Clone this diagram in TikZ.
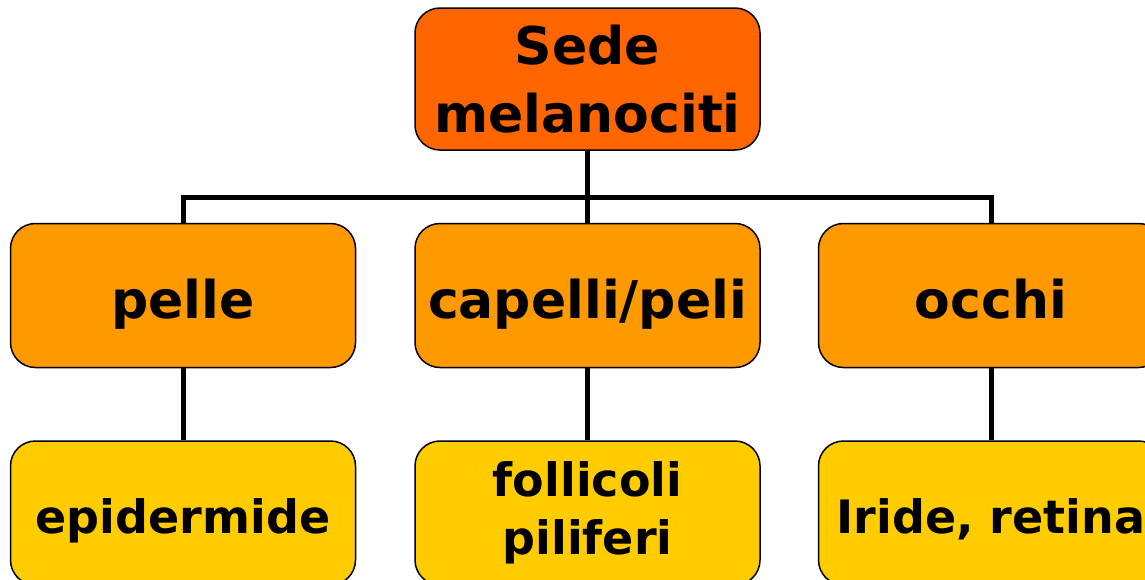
\documentclass[tikz,border=0pt]{standalone}
\usepackage{fontspec}
\setmainfont{DejaVu Sans}
\usepackage{tikz}
\usetikzlibrary{positioning}

\definecolor{rootorange}{HTML}{FF6600}
\definecolor{levelorange}{HTML}{FF9900}
\definecolor{leafyellow}{HTML}{FFCC00}

\begin{document}
\begin{tikzpicture}[
    x=1pt, y=1pt,
    box/.style={rectangle, rounded corners=25pt, draw=black, line width=1.5pt, minimum width=345pt, inner sep=0pt, align=center},
    root/.style={box, fill=rootorange, minimum height=142pt, font=\bfseries\fontsize{52}{68}\selectfont},
    level/.style={box, fill=levelorange, minimum height=144pt, text height=46pt, text depth=0pt, font=\bfseries\fontsize{52}{62}\selectfont},
    leaf/.style={box, fill=leafyellow, minimum height=144pt, font=\bfseries\fontsize{46}{58}\selectfont},
    oneline/.style={text height=40pt, text depth=0pt},
    link/.style={line width=5pt, line join=miter}
]
\useasboundingbox (0,0) rectangle (1145,-579);

% Root
\node[root] (sede) at (587.5,-79) {Sede\\melanociti};

% Second level
\node[level, below=72pt of sede] (capelli) {capelli/peli};
\node[level, left=58pt of capelli] (pelle) {pelle};
\node[level, right=57pt of capelli] (occhi) {occhi};

% Third level
\node[leaf, oneline, below=72pt of pelle] (epidermide) {epidermide};
\node[leaf, below=72pt of capelli] (follicoli) {follicoli\\piliferi};
\node[leaf, oneline, below=72pt of occhi] (iride) {Iride, retina};

% Connectors
\coordinate (bus) at (587.5,-197);
\draw[link] (sede.south) -- (bus);
\draw[link] (bus) -| (pelle.north);
\draw[link] (bus) -| (occhi.north);
\draw[link] (bus) -- (capelli.north);
\draw[link] (pelle.south) -- (epidermide.north);
\draw[link] (capelli.south) -- (follicoli.north);
\draw[link] (occhi.south) -- (iride.north);

\end{tikzpicture}
\end{document}
